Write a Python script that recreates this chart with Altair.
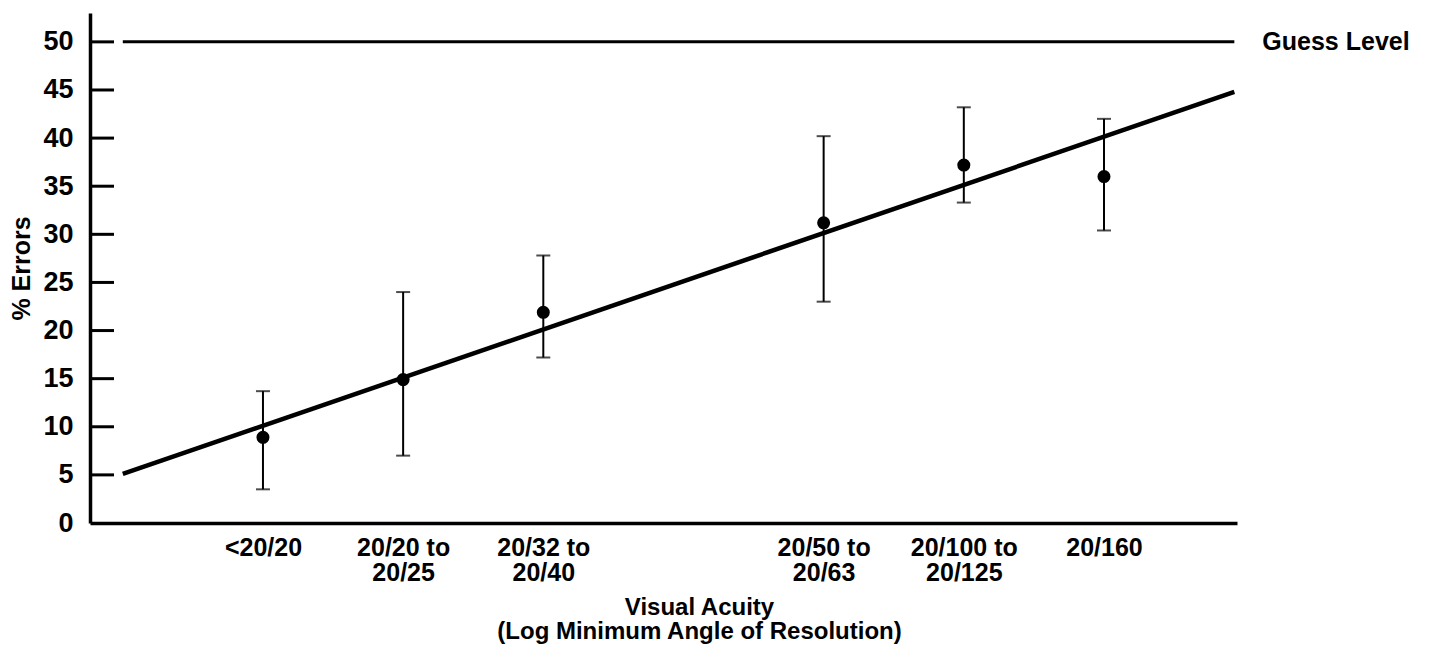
import json
import altair as alt
import pandas as pd

# ---- data ----
slots = [0, 1, 2, 4, 5, 6]
acuity_labels = ["<20/20", "20/20 to\n20/25", "20/32 to\n20/40",
                 "20/50 to\n20/63", "20/100 to\n20/125", "20/160"]
pct_errors = [8.9, 14.9, 21.9, 31.2, 37.2, 36.0]
err_upper = [13.7, 24.0, 27.8, 40.2, 43.2, 42.0]
err_lower = [3.5, 7.0, 17.2, 23.0, 33.3, 30.4]

fit_slot = [-1.0, 6.93]
fit_pct = [5.1, 44.8]

guess_slot = [-1.0, 6.93]
guess_pct = [50, 50]
guess_label = ["Guess Level"]

y_tick_values = [5, 10, 15, 20, 25, 30, 35, 40, 45, 50]
y_label_values = [0] + y_tick_values

FONT = "Liberation Sans"

pts = pd.DataFrame({"slot": slots, "pct": pct_errors,
                    "lo": err_lower, "hi": err_upper, "label": acuity_labels})
fit = pd.DataFrame({"slot": fit_slot, "pct": fit_pct})
guess = pd.DataFrame({"slot": guess_slot, "pct": guess_pct})
guess_txt = pd.DataFrame({"slot": [guess_slot[-1]], "pct": [guess_pct[-1]],
                          "text": guess_label})
yt = pd.DataFrame({"pct": y_tick_values})

# label expression for multi-line x labels
expr = "''"
for s, lab in reversed(list(zip(slots, acuity_labels))):
    expr = f"datum.value == {s} ? {json.dumps(lab.split(chr(10)))} : ({expr})"

xscale = alt.Scale(domain=[-1.234, 6.949], nice=False, zero=False)
yscale = alt.Scale(domain=[0, 53], nice=False, zero=False)

xaxis = alt.Axis(values=slots, labelExpr=expr, ticks=False, grid=False,
                 domainColor="black", domainWidth=3.5,
                 labelFont=FONT, labelFontWeight="bold", labelFontSize=25,
                 labelColor="black", labelLineHeight=25, labelPadding=12,
                 labelAngle=0, labelBaseline="top",
                 title=["Visual Acuity", "(Log Minimum Angle of Resolution)"],
                 titleFont=FONT, titleFontWeight="bold", titleFontSize=24,
                 titleLineHeight=24, titleColor="black",
                 titleX=609, titleY=72, titleAnchor="middle", titleAlign="center",
                 titleBaseline="top")
yaxis = alt.Axis(values=y_label_values, ticks=False, grid=False,
                 domainColor="black", domainWidth=3.5,
                 labelFont=FONT, labelFontWeight="bold", labelFontSize=27,
                 labelColor="black", labelPadding=17,
                 title="% Errors", titleFont=FONT, titleFontWeight="bold",
                 titleFontSize=25, titleColor="black", titlePadding=8)

x = alt.X("slot:Q", scale=xscale, axis=xaxis)


def Y(field):
    return alt.Y(f"{field}:Q", scale=yscale, axis=yaxis)


guess_line = alt.Chart(guess).mark_line(color="black", strokeWidth=3).encode(x=x, y=Y("pct"))
fit_line = alt.Chart(fit).mark_line(color="black", strokeWidth=4.5).encode(x=x, y=Y("pct"))

ticks = alt.Chart(yt).mark_rule(color="black", strokeWidth=3).encode(
    y=Y("pct"), x=alt.value(0), x2=alt.value(24))

bars = alt.Chart(pts).mark_rule(color="black", strokeWidth=2).encode(
    x=x, y=Y("lo"), y2="hi:Q")
cap_hi = alt.Chart(pts).mark_tick(color="black", orient="horizontal",
                                  size=14, thickness=2).encode(x=x, y=Y("hi"))
cap_lo = alt.Chart(pts).mark_tick(color="black", orient="horizontal",
                                  size=14, thickness=2).encode(x=x, y=Y("lo"))
dots = alt.Chart(pts).mark_circle(color="black", opacity=1, size=170).encode(x=x, y=Y("pct"))

gtext = alt.Chart(guess_txt).mark_text(
    align="left", baseline="middle", dx=28, font=FONT, fontWeight="bold",
    fontSize=25, color="black").encode(x=x, y=Y("pct"), text="text:N")

chart = alt.layer(guess_line, fit_line, ticks, bars, cap_hi, cap_lo, dots, gtext).properties(
    width=1147, height=510,
    padding={"left": 82, "top": 5, "right": 180, "bottom": 130},
    autosize=alt.AutoSizeParams(type="none"),
    background="white",
).configure_view(stroke=None)

chart.save("out.html", embed_options={"renderer": "svg", "actions": False})
